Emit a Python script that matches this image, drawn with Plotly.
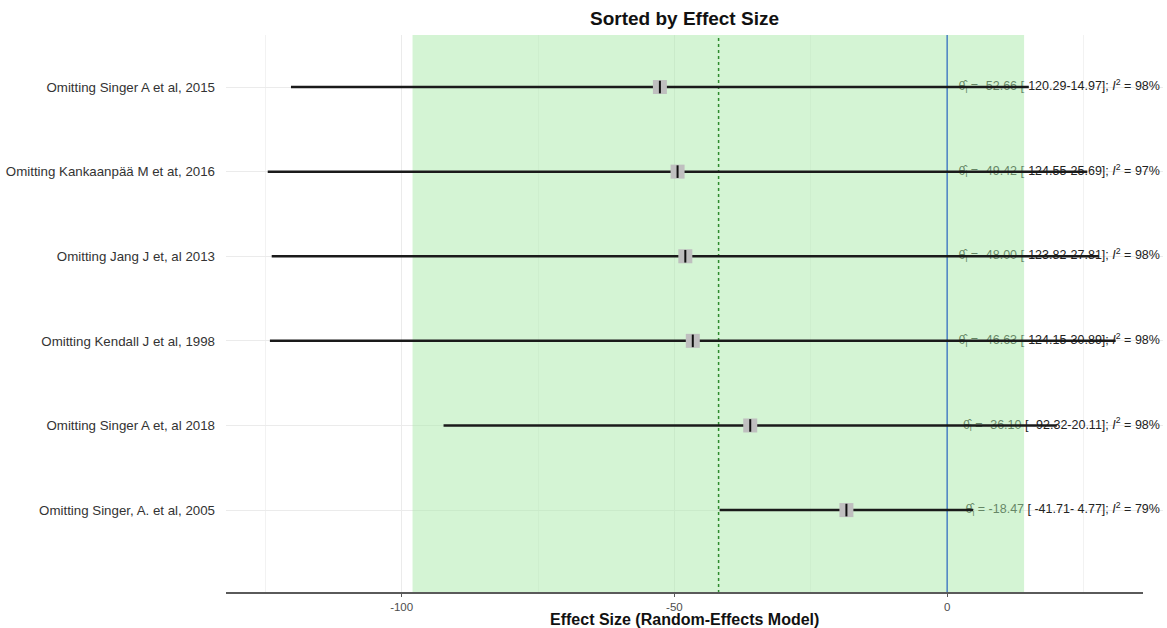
import plotly.graph_objects as go

# Leave-one-out meta-analysis, rows listed top to bottom
studies = [
    "Omitting Singer A et al, 2015",
    "Omitting Kankaanpää M et at, 2016",
    "Omitting Jang J et, al 2013",
    "Omitting Kendall J et al, 1998",
    "Omitting Singer A et, al 2018",
    "Omitting Singer, A. et al, 2005",
]
estimate = [-52.66, -49.42, -48.00, -46.63, -36.10, -18.47]
ci_lower = [-120.29, -124.55, -123.82, -124.15, -92.32, -41.71]
ci_upper = [14.97, 25.69, 27.81, 30.89, 20.11, 4.77]
i_squared = [98, 97, 98, 98, 98, 79]

# Overall random-effects estimate and its confidence band
overall_est = -41.9
overall_lo = -98.0
overall_hi = 14.1

x_tickvals = [-100, -50, 0]
x_ticktext = ["-100", "-50", "0"]
x_minor = [-125, -75, -25, 25]

# panel extent (the drawn axis line) and figure geometry
W, H = 1167, 628
M_L, M_R, M_T, M_B = 226, 4, 35, 35
AXIS_LO, AXIS_HI = -132.2, 35.9
PANEL_RIGHT_PX = 1143
px_per_unit = (PANEL_RIGHT_PX - M_L) / (AXIS_HI - AXIS_LO)
plot_w = W - M_L - M_R
X_RANGE = [AXIS_LO, AXIS_LO + plot_w / px_per_unit]
Y_RANGE = [0.02, 6.615]
LABEL_X = 39.0
CENTER_PX = (M_L + PANEL_RIGHT_PX) / 2
FONT = "Liberation Sans, Arial, sans-serif"

n = len(studies)
ypos = list(range(n, 0, -1))

labels = [
    f"θ̂<sub>i</sub> = {e:6.2f} [{lo:7.2f}-{hi:5.2f}]; <i>I</i><sup>2</sup> = {i2}%"
    for e, lo, hi, i2 in zip(estimate, ci_lower, ci_upper, i_squared)
]

fig = go.Figure()

# estimate labels (sit underneath the shaded band)
fig.add_trace(go.Scatter(
    x=[LABEL_X] * n, y=ypos, mode="text", text=labels,
    textposition="middle left",
    textfont=dict(family=FONT, size=12.5, color="#222222"),
    hoverinfo="skip", showlegend=False,
))

# shaded band for the overall confidence interval
fig.add_trace(go.Scatter(
    x=[overall_lo, overall_hi, overall_hi, overall_lo, overall_lo],
    y=[Y_RANGE[0], Y_RANGE[0], Y_RANGE[1], Y_RANGE[1], Y_RANGE[0]],
    mode="lines", fill="toself", fillcolor="rgba(170,234,170,0.5)",
    line=dict(width=0), hoverinfo="skip", showlegend=False,
))

# overall estimate (dotted) and null effect line
fig.add_trace(go.Scatter(
    x=[overall_est, overall_est], y=Y_RANGE, mode="lines",
    line=dict(color="#2e8b2e", width=1.5, dash="dot"),
    hoverinfo="skip", showlegend=False,
))
fig.add_trace(go.Scatter(
    x=[0, 0], y=Y_RANGE, mode="lines",
    line=dict(color="#4a7fc4", width=1.5),
    hoverinfo="skip", showlegend=False,
))

# confidence interval whiskers
for lo, hi, y in zip(ci_lower, ci_upper, ypos):
    fig.add_trace(go.Scatter(
        x=[lo, hi], y=[y, y], mode="lines",
        line=dict(color="#1a1a1a", width=2.5),
        hoverinfo="skip", showlegend=False,
    ))

# point estimates: grey box with a dark centre tick
fig.add_trace(go.Scatter(
    x=estimate, y=ypos, mode="markers",
    marker=dict(symbol="square", size=14, color="#bfbfbf", line=dict(width=0)),
    hoverinfo="skip", showlegend=False,
))
fig.add_trace(go.Scatter(
    x=estimate, y=ypos, mode="markers",
    marker=dict(symbol="line-ns", size=9, line=dict(color="#111111", width=2)),
    hoverinfo="skip", showlegend=False,
))

fig.update_layout(
    width=W, height=H,
    margin=dict(l=M_L, r=M_R, t=M_T, b=M_B),
    paper_bgcolor="white", plot_bgcolor="white",
    font=dict(family=FONT, color="#333333"),
    title=dict(
        text="<b>Sorted by Effect Size</b>", x=CENTER_PX / W, xref="container",
        xanchor="center", y=1 - 18 / H, yref="container", yanchor="middle",
        font=dict(size=19, color="#111111", family=FONT),
    ),
    xaxis=dict(
        range=X_RANGE, tickvals=x_tickvals, ticktext=x_ticktext,
        showgrid=True, gridcolor="#ebebeb", gridwidth=1,
        minor=dict(tickvals=x_minor, showgrid=True, gridcolor="#f2f2f2", gridwidth=1),
        zeroline=False, showline=False,
        ticks="outside", ticklen=3, tickcolor="#5a5a5a", tickwidth=1,
        tickfont=dict(size=11.5, color="#4d4d4d"),
        fixedrange=True,
    ),
    yaxis=dict(
        range=Y_RANGE, tickvals=ypos, ticktext=studies,
        showgrid=True, gridcolor="#ebebeb", gridwidth=1,
        zeroline=False, showline=False, ticks="",
        ticklabelstandoff=10,
        tickfont=dict(size=13.3, color="#333333"),
        fixedrange=True,
    ),
    shapes=[dict(
        type="line", xref="x", yref="paper",
        x0=AXIS_LO, x1=AXIS_HI, y0=0, y1=0,
        line=dict(color="#5a5a5a", width=2), layer="above",
    )],
    annotations=[dict(
        text="<b>Effect Size (Random-Effects Model)</b>",
        x=(CENTER_PX - M_L) / plot_w, xref="paper",
        y=-(619.5 - (H - M_B)) / (H - M_T - M_B), yref="paper",
        xanchor="center", yanchor="middle", showarrow=False,
        font=dict(size=16, color="#111111", family=FONT),
    )],
)

fig.write_html("out.html")
